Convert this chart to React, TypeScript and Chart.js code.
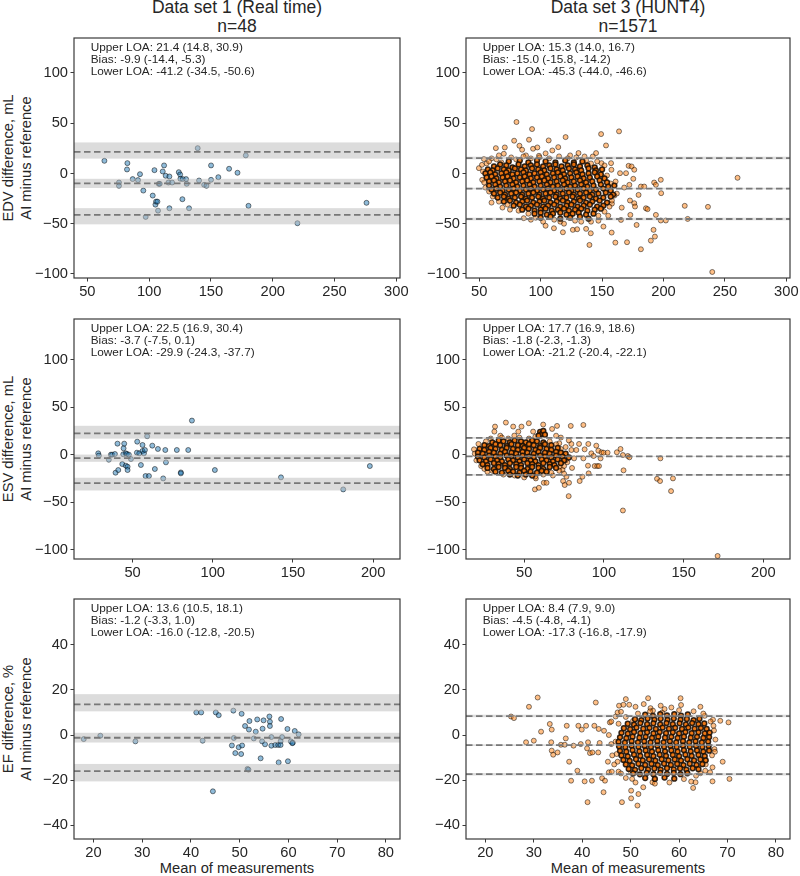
import { useEffect, useRef } from "react";
import { Chart, registerables } from "chart.js";
Chart.register(...registerables);

type Pt = [number, number];
type Loa = [number, number, number];

// ---------- text ----------
const columnTitles = ["Data set 1 (Real time)", "Data set 3 (HUNT4)"];
const columnCounts = ["n=48", "n=1571"];
const rowLabels = [
  ["EDV difference, mL", "AI minus reference"],
  ["ESV difference, mL", "AI minus reference"],
  ["EF difference, %", "AI minus reference"],
];
const xAxisLabel = "Mean of measurements";
const loaNames = ["Upper LOA", "Bias", "Lower LOA"];

// ---------- ticks & ranges ----------
const edvXTicks = [50, 100, 150, 200, 250, 300];
const esvXTicks = [50, 100, 150, 200];
const efXTicks = [20, 30, 40, 50, 60, 70, 80];
const volYTicks = [-100, -50, 0, 50, 100];
const efYTicks = [-40, -20, 0, 20, 40];
const edvXRange = [39.2, 303];
const esvXRange = [13.5, 216.7];
const efXRange = [16, 82.9];
const edvYRange = [-104, 134.8];
const esvYRange = [-109.9, 142.9];
const efYRange = [-46, 60.2];

// ---------- limits of agreement: [value, ci a, ci b] ----------
const edv1Loa: Loa[] = [[21.4, 14.8, 30.9], [-9.9, -14.4, -5.3], [-41.2, -34.5, -50.6]];
const edv3Loa: Loa[] = [[15.3, 14.0, 16.7], [-15.0, -15.8, -14.2], [-45.3, -44.0, -46.6]];
const esv1Loa: Loa[] = [[22.5, 16.9, 30.4], [-3.7, -7.5, 0.1], [-29.9, -24.3, -37.7]];
const esv3Loa: Loa[] = [[17.7, 16.9, 18.6], [-1.8, -2.3, -1.3], [-21.2, -20.4, -22.1]];
const ef1Loa: Loa[] = [[13.6, 10.5, 18.1], [-1.2, -3.3, 1.0], [-16.0, -12.8, -20.5]];
const ef3Loa: Loa[] = [[8.4, 7.9, 9.0], [-4.5, -4.8, -4.1], [-17.3, -16.8, -17.9]];

// ---------- Data set 1 points (mean, difference) ----------
const edv1Points: Pt[] = [
  [63.8, 12.6], [75.6, -9], [75.6, -12.3], [82.4, 10.3], [82.1, 4], [86.7, -5.6], [91, -6.6], [92.6, -0.7],
  [95.3, -17], [97.2, -43.2], [102.9, -22], [104.3, 3.3], [105.1, -31], [105.6, -28], [106.7, -28], [107.2, -37],
  [107.8, -10.3], [108.6, -10.3], [111, 2], [112.1, 8], [113.4, -2.3], [115.6, -9], [116.4, -3], [116.4, -34.6],
  [118.6, -9], [124, 1.3], [125.1, -1], [125.3, -5.3], [127.2, -5.6], [126.9, -25.6], [129.9, -5.6], [130.4, -10.3],
  [132.3, -34.6], [139.3, 25.2], [140.4, -7], [144.5, -11.3], [146.4, -12.3], [150.1, 8], [150.1, -6.3], [156, -3.7],
  [164.7, 4.7], [171.5, 0.7], [178.2, 18], [180.4, -32.2], [220, -49.5], [275.9, -29.2],
];
const esv1Points: Pt[] = [
  [28.6, 1.4], [29, -1], [35.2, -5.3], [36.5, 0], [37.3, 0], [39, 0.7], [39.4, -19], [41.1, -16.2], [40.6, 11.6],
  [43.6, -9.9], [44.4, 6.7], [44.8, 11.6], [44.2, 0.4], [45.8, 1.4], [45.8, -11.6], [46.5, 0.7], [46.9, -12.7],
  [46.9, -16.2], [47.7, 0], [49, -4.6], [52.7, 2.1], [52.9, 13.7], [54.2, 1.4], [55.2, -10.9], [56.2, 10.2],
  [56.2, 3.9], [57.1, 1.4], [57.7, 4.9], [58.1, -22.5], [59.1, 19.4], [60.2, -22.5], [62.3, 9.5], [63.9, -15.1],
  [65.8, 6], [69.1, -25], [70.4, 4.9], [70.8, -8.1], [77.6, 4.9], [80.1, -18.7], [80.1, -19.7], [84.7, 4.9],
  [87, 35.9], [101.3, -16.2], [142.5, -23.9], [181.3, -36.6], [197.9, -12],
];
const ef1Points: Pt[] = [
  [18, -1.8], [21.4, -0.3], [28.6, -2.8], [41.1, 10], [42.1, 10], [42.4, -2.5], [45.1, 10], [45.7, 8.8], [44.5, -24.9],
  [48.7, 10.8], [48.8, -1.3], [48.4, -4.6], [49.1, -8], [49.8, -5.4], [50.4, 9.4], [50.5, -4.6], [50.3, -8.4],
  [51.1, 4], [51.6, -15], [51.8, -15.3], [51.9, 2.4], [52, 6.2], [52.9, -1.5], [53.3, 1.5], [53.6, 6.9], [54.3, -10.3],
  [54.6, -2.8], [54.7, 2.8], [54.9, 6.5], [55.2, -4.1], [56.1, 8.2], [56.2, 5.9], [56.2, 4], [56.5, -4.7], [56.5, -0.9],
  [57.3, -4.4], [57.9, -4.4], [58, -12.1], [58.4, -2.7], [58.4, -4.4], [58.5, 7.1], [58.7, -0.9], [59.8, 2.7],
  [59.9, -11.6], [60.5, -2.8], [60.9, -3.4], [60.8, -3.6], [61.3, 1.8], [62.1, 0.3],
];

// ---------- Data set 3 points ----------
const edv3Sparse: Pt[] = [
  [49.7, 5.3], [52.2, 8.6], [52.4, -6.3], [53.8, 14.3], [56, 10], [58, -18], [60, -29], [60, 15], [63.5, 25.2], [66, 18],
  [68.9, -33.9], [70, 19.6], [70.8, 25.9], [75, -36], [78.4, 32.6], [80.3, 51.2], [82.7, 27.6], [84.9, 23.6], [86.2, -44.5],
  [88, 18], [90.5, 33.6], [92, -46], [93, 44.2], [93.8, 24.6], [97.3, 25.9], [98.6, 17.6], [102, -48], [104, 20],
  [106.5, 32.9], [109.5, 22.9], [110.8, -54.5], [114.3, 26.2], [116, -48], [118.1, -58.5], [120.3, 36.2], [124, 18],
  [126.2, -56.1], [129.7, -55.5], [130.8, 20.3], [133, -48], [135.7, 16.9], [137, -55.1], [139.7, -71.1], [140.8, -59.5],
  [142.4, 16.9], [145.1, 20.3], [147, -47], [149.2, 39.2], [149.5, 10.3], [151.1, -52.8], [153.2, 27.9], [155, -42],
  [157.3, 10.3], [157.6, 3.7], [157.8, -58.8], [158, -30], [160.8, -68.8], [161, -8], [162, -20], [163.8, 41.9],
  [164.6, 0.3], [165.4, -46.2], [166, -34], [168, -14], [169.5, 0.3], [170.3, -68.4], [171.6, 7.6], [172.2, -11.3],
  [172.7, -26.9], [173, -41.2], [174, 7], [175.4, -5.3], [176.2, 3.7], [176.2, -29.6], [176.8, -32.9], [178.1, -51.2],
  [179.7, -21.3], [181.6, -75.4], [181.6, -13], [184.3, -13], [185.7, -34.6], [187, -35.5], [189.7, -66.8], [191.9, -56.1],
  [192.4, -9], [193, -62.8], [193.8, -11.3], [193.8, -41.2], [197.8, -6.3], [198.1, -19.6], [197.8, -46.8], [201.9, -46.8],
  [217.3, -32.2], [219.7, -45.2], [236.2, -33.2], [239.7, -98], [260.3, -4.3],
  [58, 12], [64, 14], [68, 11], [76, 16], [80, 14], [86, 17], [92, 15], [99, 16], [107, 15], [115, 17], [122, 15],
  [129, 16], [137, 13], [141, 10], [146, 12], [152, 8], [154, -2], [157, -10], [160, -22], [158, -27], [156, -33],
  [152, -38], [147, -42], [141, -48], [128, -47], [119, -50], [111, -46], [104, -52], [96, -44], [90, -40], [82, -37],
  [73, -31], [66, -28], [61, -23], [55, -14], [54, -9], [53, 2],
];
const edv3Dense: Pt[] = [
  [74, 12], [83, 13], [90, 11], [97, 13], [104, 12], [112, 11], [120, 13], [127, 11], [134, 12],
  [62, 7], [67, 9], [72, 8], [77, 6], [82, 9], [87, 7], [92, 8], [97, 9], [102, 7], [107, 8], [112, 9], [117, 7], [122, 8], [127, 9], [132, 7], [138, 8], [144, 6],
  [57, 4], [61, 3], [65, 5], [70, 4], [74, 3], [79, 5], [84, 4], [88, 3], [93, 5], [98, 4], [103, 3], [108, 5], [113, 4], [118, 3], [123, 5], [128, 4], [133, 3], [139, 5], [145, 3], [150, 4],
  [55, 0], [59, 1], [63, -1], [68, 0], [72, 1], [77, -1], [81, 0], [86, 1], [91, -1], [95, 0], [100, 1], [105, -1], [110, 0], [114, 1], [119, -1], [124, 0], [129, 1], [134, -1], [139, 0], [144, 1], [149, -1],
  [56, -4], [60, -3], [64, -5], [69, -4], [73, -3], [78, -5], [83, -4], [87, -3], [92, -5], [97, -4], [101, -3], [106, -5], [111, -4], [116, -3], [120, -5], [125, -4], [130, -3], [135, -5], [140, -4], [146, -3], [152, -5],
  [58, -8], [62, -7], [66, -9], [71, -8], [75, -7], [80, -9], [85, -8], [89, -7], [94, -9], [99, -8], [103, -7], [108, -9], [113, -8], [118, -7], [122, -9], [127, -8], [132, -7], [137, -9], [142, -8], [148, -7], [154, -9],
  [58, -12], [63, -11], [67, -13], [72, -12], [77, -11], [81, -13], [86, -12], [91, -11], [95, -13], [100, -12], [105, -11], [110, -13], [114, -12], [119, -11], [124, -13], [128, -12], [133, -11], [138, -13], [143, -12], [149, -11], [155, -13], [160, -12],
  [60, -16], [64, -15], [69, -17], [74, -16], [78, -15], [83, -17], [88, -16], [92, -15], [97, -17], [102, -16], [106, -15], [111, -17], [116, -16], [121, -15], [125, -17], [130, -16], [135, -15], [140, -17], [145, -16], [151, -15], [157, -17],
  [62, -20], [67, -19], [71, -21], [76, -20], [80, -19], [85, -21], [90, -20], [94, -19], [99, -21], [104, -20], [108, -19], [113, -21], [118, -20], [123, -19], [127, -21], [132, -20], [137, -19], [142, -21], [147, -20], [153, -19], [159, -21],
  [65, -24], [70, -23], [74, -25], [79, -24], [84, -23], [88, -25], [93, -24], [98, -23], [102, -25], [107, -24], [112, -23], [116, -25], [121, -24], [126, -23], [131, -25], [135, -24], [140, -23], [145, -25], [151, -24], [157, -23],
  [70, -28], [75, -27], [80, -29], [85, -28], [89, -27], [94, -29], [99, -28], [103, -27], [108, -29], [113, -28], [118, -27], [122, -29], [127, -28], [132, -27], [137, -29], [142, -28], [148, -27], [154, -29],
  [78, -32], [83, -31], [88, -33], [92, -32], [97, -31], [102, -33], [106, -32], [111, -31], [116, -33], [121, -32], [125, -31], [130, -33], [135, -32], [140, -31], [146, -33], [151, -32],
  [85, -36], [90, -35], [95, -37], [100, -36], [104, -35], [109, -37], [114, -36], [119, -35], [123, -37], [128, -36], [133, -35], [138, -37], [144, -36], [149, -35],
  [95, -40], [100, -39], [105, -41], [110, -40], [116, -39], [121, -41], [126, -40], [131, -39], [137, -41], [143, -40],
  [100, -44], [108, -43], [116, -45], [124, -44], [132, -43], [139, -45],
];

const esv3Sparse: Pt[] = [
  [18.5, 5.6], [21.3, 11.3], [26.9, -18], [31.7, 29.6], [31.3, 24.3], [38.5, 33.8], [35, 20], [43.1, 29.6], [43.8, 20.1],
  [46.3, 24.3], [48.3, 29.6], [52.9, 33.1], [55.6, 24.3], [57.3, -25], [56.7, -36.6], [59.2, -34.9], [61.9, 31.7],
  [62.3, -29.6], [64, -29.6], [67.5, 27.1], [70.6, 30.3], [72.3, -12.7], [74.4, -27.8], [75.4, -32], [76.5, -23.2],
  [77.9, -43.7], [79.2, 30.3], [78.1, -29.6], [79.6, 11.3], [79.6, 4.9], [81.3, -3.9], [82.7, 4.9], [84.4, 11.3],
  [84.8, -27.8], [86.5, -23.2], [87.1, 31.3], [87.1, -3.9], [87.9, 5.6], [90.2, 11.3], [90, -11.6], [90.4, -19.7],
  [92.1, 1.4], [93.5, -1.4], [94.2, -12], [95.2, 9.5], [95.8, -12], [96.5, 4.2], [96.9, -12], [97.9, -3.9], [98.5, 2.5],
  [99.8, 2.1], [102.3, 2.1], [108.1, 2.5], [110.4, 6], [111.9, -0.4], [112.3, -16.5], [111.9, -58.8], [115, -1.4],
  [116, -2.8], [135.4, -3.9], [133.3, -25.4], [135.2, -27.8], [142.1, -38.4], [143.3, -25], [171.3, -106.7],
  [72, 12], [74, -16], [76, 8], [77, -8], [78, 15], [80, -14], [75, -20], [73, 18], [70, 20], [68, -22],
  [20, -6], [19, 1], [23, -12], [26, 14], [29, 17], [36, 18], [40, 17], [47, 18], [53, 17], [57, 19], [66, 14],
  [70, 11], [73, 6], [76, -6], [75, -12], [72, -17], [67, -19], [62, -21], [57, -23], [50, -24], [44, -22], [37, -21],
  [30, -17], [25, -15],
];
const esv3Dense: Pt[] = [
  [30, 13], [34, 15], [37, 14], [41, 13], [44, 15], [48, 14], [51, 13], [55, 15], [58, 14], [62, 13],
  [25, 10], [28, 9], [32, 11], [35, 10], [39, 9], [42, 11], [46, 10], [49, 9], [53, 11], [56, 10], [60, 9], [63, 11], [67, 10],
  [22, 6], [25, 5], [29, 7], [32, 6], [36, 5], [39, 7], [43, 6], [46, 5], [50, 7], [53, 6], [57, 5], [60, 7], [64, 6], [67, 5], [71, 7],
  [21, 2], [24, 1], [28, 3], [31, 2], [35, 1], [38, 3], [42, 2], [45, 1], [49, 3], [52, 2], [56, 1], [59, 3], [63, 2], [66, 1], [70, 3], [73, 2], [76, 1],
  [21, -2], [25, -3], [28, -1], [32, -2], [35, -3], [39, -1], [42, -2], [46, -3], [49, -1], [53, -2], [56, -3], [60, -1], [63, -2], [67, -3], [70, -1], [74, -2], [78, -3],
  [22, -6], [26, -7], [29, -5], [33, -6], [36, -7], [40, -5], [43, -6], [47, -7], [50, -5], [54, -6], [57, -7], [61, -5], [64, -6], [68, -7], [71, -5], [75, -6],
  [24, -10], [27, -11], [31, -9], [34, -10], [38, -11], [41, -9], [45, -10], [48, -11], [52, -9], [55, -10], [59, -11], [62, -9], [66, -10], [69, -11], [73, -9],
  [27, -14], [31, -15], [34, -13], [38, -14], [41, -15], [45, -13], [48, -14], [52, -15], [55, -13], [59, -14], [62, -15], [66, -13], [70, -14],
  [32, -18], [36, -19], [40, -17], [43, -18], [47, -19], [50, -17], [54, -18], [58, -19], [61, -17], [64, -18],
  [41, -21], [46, -22], [51, -21], [55, -22],
  [60, 24], [61, 22], [62, 25], [63, 21], [59, 20],
];

const ef3Sparse: Pt[] = [
  [25.3, 8.2], [25.9, 7.5], [29, 12.5], [28.4, -3.2], [30, -2.5], [30.8, 16.6], [31.5, 1.5], [33.3, 4.9], [33.7, 2.4],
  [33.6, -3.2], [33.7, -6.9], [34, -8.7], [34.9, -7.7], [35.6, -4.3], [36.4, -4.3], [36.6, -1.5], [36.8, 4.1],
  [37.3, -11.8], [37.7, -20.2], [38.2, -4.7], [39, -15.8], [39.2, 4.1], [39.7, -4], [39.9, 2.4], [40.5, -20.5],
  [40.8, 4.1], [41, -5.9], [41.1, -29.7], [41.2, -3.2], [41.6, -8], [42, -20.2], [42.1, -7.7], [42.5, 4.1],
  [42.8, 14.4], [43.3, -7.7], [43.4, 2.7], [43.6, -3.5], [44.1, -19.1], [44.4, -25.3], [44.5, 1.9], [44.7, -20.2],
  [45.3, -11.8], [45.5, -16.5], [45.7, 5.6], [46.1, -16.2], [46.9, 8.2], [47.3, 10], [47.6, 13], [46.9, -2.9],
  [47.1, -8.4], [47.3, -11.8], [47.5, -16.2], [48.2, -29.7], [48, 10.3], [48.5, 13.4], [49, 15.9], [49.7, 13.4],
  [50.1, -16.5], [50.3, -19.4], [50.1, -24.6], [50.1, -28], [50.5, 6.3], [51.4, -31.2], [51.6, -26.1], [51, 12.5],
  [52.7, 13.7], [53.6, 16.3], [54.1, 11.9], [54.6, 10.8], [52.6, -23.1], [54.5, -20.9], [56.2, 13], [56.5, 10],
  [58.4, 12.2], [60.3, 16.3], [60.4, 13.3], [62.5, -20.6], [62.9, -23.4], [63.4, -20.9], [64.4, 12.5], [64.4, -16.9],
  [65.3, 8.5], [66.4, -16.5], [66.9, -14.3], [66.9, -20.5], [67, 6.8], [67.1, 4.1], [67.3, -6.2], [67.4, -7.4],
  [68.5, 6.3], [69, -11.8], [70.2, 5.6], [70.4, -19.4], [66.1, -5.9], [65.4, -15.8],
  [46, 6], [45.5, 0], [46, -4], [46.2, -9], [46.6, -13], [48, -17], [49, -19], [51, -21], [55, -21.5], [58, -21],
  [61, -19.5], [63.5, -18], [65.5, -13], [66.8, -9], [67.5, -2], [67.2, 2], [66.5, 6], [65, 9.5], [63, 10.5], [60, 11],
  [57, 11.5], [54, 10.5], [51.5, 9.5], [49, 8], [47.5, 5],
];
const ef3Dense: Pt[] = [
  [53, 9], [54.6, 8.5], [56.1, 9.3], [57.5, 8.7], [59, 9.2], [60.4, 8.6], [61.8, 9.1],
  [50.9, 7], [52.2, 6.6], [53.5, 7.3], [54.9, 6.8], [56.2, 7.2], [57.6, 6.7], [58.9, 7.3], [60.3, 6.8], [61.6, 7.1], [63, 6.6], [64.2, 7.2],
  [49.4, 5], [50.7, 4.6], [52, 5.3], [53.4, 4.8], [54.7, 5.2], [56.1, 4.7], [57.4, 5.3], [58.7, 4.8], [60.1, 5.2], [61.4, 4.7], [62.7, 5.3], [64, 4.8], [65.2, 5.1],
  [48.6, 3], [49.9, 2.6], [51.2, 3.3], [52.6, 2.8], [53.9, 3.2], [55.2, 2.7], [56.6, 3.3], [57.9, 2.8], [59.2, 3.2], [60.6, 2.7], [61.9, 3.3], [63.2, 2.8], [64.5, 3.1], [65.7, 2.7],
  [48.1, 1], [49.4, 0.6], [50.7, 1.3], [52, 0.8], [53.4, 1.2], [54.7, 0.7], [56, 1.3], [57.3, 0.8], [58.7, 1.2], [60, 0.7], [61.3, 1.3], [62.6, 0.8], [64, 1.2], [65.3, 0.7], [66.3, 1.1],
  [47.8, -1], [49.1, -1.4], [50.4, -0.7], [51.8, -1.2], [53.1, -0.8], [54.4, -1.3], [55.7, -0.7], [57.1, -1.2], [58.4, -0.8], [59.7, -1.3], [61, -0.7], [62.4, -1.2], [63.7, -0.8], [65, -1.3], [66.2, -0.9],
  [47.5, -3], [48.8, -3.4], [50.2, -2.7], [51.5, -3.2], [52.8, -2.8], [54.1, -3.3], [55.5, -2.7], [56.8, -3.2], [58.1, -2.8], [59.4, -3.3], [60.8, -2.7], [62.1, -3.2], [63.4, -2.8], [64.7, -3.3], [66, -2.9],
  [47.6, -5], [48.9, -5.4], [50.2, -4.7], [51.6, -5.2], [52.9, -4.8], [54.2, -5.3], [55.5, -4.7], [56.9, -5.2], [58.2, -4.8], [59.5, -5.3], [60.8, -4.7], [62.2, -5.2], [63.5, -4.8], [64.8, -5.3], [66.1, -4.9],
  [47.8, -7], [49.1, -7.4], [50.4, -6.7], [51.8, -7.2], [53.1, -6.8], [54.4, -7.3], [55.7, -6.7], [57.1, -7.2], [58.4, -6.8], [59.7, -7.3], [61, -6.7], [62.4, -7.2], [63.7, -6.8], [65, -7.3], [66.2, -6.9],
  [48.1, -9], [49.4, -9.4], [50.7, -8.7], [52, -9.2], [53.4, -8.8], [54.7, -9.3], [56, -8.7], [57.3, -9.2], [58.7, -8.8], [60, -9.3], [61.3, -8.7], [62.6, -9.2], [64, -8.8], [65.3, -9.3],
  [48.5, -11], [49.8, -11.4], [51.1, -10.7], [52.5, -11.2], [53.8, -10.8], [55.1, -11.3], [56.4, -10.7], [57.8, -11.2], [59.1, -10.8], [60.4, -11.3], [61.7, -10.7], [63.1, -11.2], [64.4, -10.8], [65.5, -11.2],
  [49, -13], [50.3, -13.4], [51.6, -12.7], [53, -13.2], [54.3, -12.8], [55.6, -13.3], [56.9, -12.7], [58.3, -13.2], [59.6, -12.8], [60.9, -13.3], [62.2, -12.7], [63.6, -13.2], [64.8, -12.9],
  [49.6, -15], [50.9, -15.4], [52.2, -14.7], [53.6, -15.2], [54.9, -14.8], [56.2, -15.3], [57.5, -14.7], [58.9, -15.2], [60.2, -14.8], [61.5, -15.3], [62.8, -14.7], [64, -15.1],
  [50.5, -17], [51.9, -17.4], [53.3, -16.8], [54.7, -17.3], [56.1, -16.7], [57.5, -17.2], [58.9, -16.8], [60.3, -17.3], [61.7, -16.9],
  [53, -19], [55, -19.4], [57, -18.8], [59, -19.3],
];

// ---------- styles ----------
const FONT = "'Liberation Sans', Arial, Helvetica, sans-serif";
const TEXT = "#262626";
const SPINE = "#3a3a3a";
const BLUE_FILL = "rgba(31,119,180,0.5)";
const ORANGE_FILL = "rgba(255,127,14,0.5)";
const EDGE = "rgba(0,0,0,0.55)";
const DENSE_FILL = "rgba(236,112,8,0.95)";
const DENSE_EDGE = "rgba(28,16,6,0.9)";
const BAND = "rgba(185,185,185,0.5)";
const LINE = "#787878";

const colLeft = [74, 466];
const colRight = [400, 790];
const rowTop = [38, 319, 599];
const rowBottom = [278, 559, 839];
const Y_AXIS_W = 50;
const X_AXIS_H = 30;
const PAD_TOP = 14;
const PAD_RIGHT = 22;

type PanelCfg = {
  row: number;
  col: number;
  points: Pt[];
  dense: Pt[];
  fill: string;
  loa: Loa[];
  xRange: number[];
  yRange: number[];
  xTicks: number[];
  yTicks: number[];
};

const panels: PanelCfg[] = [
  { row: 0, col: 0, points: edv1Points, dense: [], fill: BLUE_FILL, loa: edv1Loa, xRange: edvXRange, yRange: edvYRange, xTicks: edvXTicks, yTicks: volYTicks },
  { row: 0, col: 1, points: edv3Sparse, dense: edv3Dense, fill: ORANGE_FILL, loa: edv3Loa, xRange: edvXRange, yRange: edvYRange, xTicks: edvXTicks, yTicks: volYTicks },
  { row: 1, col: 0, points: esv1Points, dense: [], fill: BLUE_FILL, loa: esv1Loa, xRange: esvXRange, yRange: esvYRange, xTicks: esvXTicks, yTicks: volYTicks },
  { row: 1, col: 1, points: esv3Sparse, dense: esv3Dense, fill: ORANGE_FILL, loa: esv3Loa, xRange: esvXRange, yRange: esvYRange, xTicks: esvXTicks, yTicks: volYTicks },
  { row: 2, col: 0, points: ef1Points, dense: [], fill: BLUE_FILL, loa: ef1Loa, xRange: efXRange, yRange: efYRange, xTicks: efXTicks, yTicks: efYTicks },
  { row: 2, col: 1, points: ef3Sparse, dense: ef3Dense, fill: ORANGE_FILL, loa: ef3Loa, xRange: efXRange, yRange: efYRange, xTicks: efXTicks, yTicks: efYTicks },
];

const fmtTick = (v: number) => (v < 0 ? "\u2212" + Math.abs(v) : String(v));
const f1 = (v: number) => v.toFixed(1);

function makeOverlay(loa: Loa[]) {
  return {
    id: "loaOverlay",
    afterDatasetsDraw(chart: any) {
      const { ctx, chartArea: a, scales } = chart;
      const ys = scales.y;
      ctx.save();
      ctx.beginPath();
      ctx.rect(a.left, a.top, a.right - a.left, a.bottom - a.top);
      ctx.clip();
      for (const [, c1, c2] of loa) {
        const p1 = ys.getPixelForValue(c1);
        const p2 = ys.getPixelForValue(c2);
        ctx.fillStyle = BAND;
        ctx.fillRect(a.left, Math.min(p1, p2), a.right - a.left, Math.abs(p2 - p1));
      }
      ctx.strokeStyle = LINE;
      ctx.lineWidth = 1.8;
      ctx.setLineDash([6.5, 3.5]);
      for (const [v] of loa) {
        const p = ys.getPixelForValue(v);
        ctx.beginPath();
        ctx.moveTo(a.left, p);
        ctx.lineTo(a.right, p);
        ctx.stroke();
      }
      ctx.restore();
      ctx.save();
      ctx.strokeStyle = SPINE;
      ctx.lineWidth = 1.2;
      ctx.strokeRect(a.left, a.top, a.right - a.left, a.bottom - a.top);
      ctx.restore();
    },
    afterDraw(chart: any) {
      const { ctx, chartArea: a } = chart;
      ctx.save();
      ctx.font = `11.8px ${FONT}`;
      ctx.fillStyle = TEXT;
      ctx.textBaseline = "alphabetic";
      ctx.textAlign = "left";
      loa.forEach(([v, c1, c2], i) => {
        ctx.fillText(`${loaNames[i]}: ${f1(v)} (${f1(c1)}, ${f1(c2)})`, a.left + 16.7, a.top + 12.5 + i * 12.3);
      });
      ctx.restore();
    },
  };
}

function Panel({ cfg }: { cfg: PanelCfg }) {
  const ref = useRef<HTMLCanvasElement>(null);
  const L = colLeft[cfg.col];
  const R = colRight[cfg.col];
  const T = rowTop[cfg.row];
  const B = rowBottom[cfg.row];
  const left = L - Y_AXIS_W;
  const top = T - PAD_TOP;
  const width = R - L + Y_AXIS_W + PAD_RIGHT;
  const height = B - T + PAD_TOP + X_AXIS_H;

  useEffect(() => {
    const tickFont = { family: FONT, size: 14.7 };
    const chart = new Chart(ref.current!, {
      type: "scatter",
      data: {
        datasets: [
          {
            data: cfg.dense.map(([x, y]) => ({ x, y })),
            pointRadius: 2.4,
            pointBorderWidth: 1.5,
            pointBackgroundColor: DENSE_FILL,
            pointBorderColor: DENSE_EDGE,
            pointHoverRadius: 2.4,
          },
          {
            data: cfg.points.map(([x, y]) => ({ x, y })),
            pointRadius: 2.5,
            pointBorderWidth: 0.9,
            pointBackgroundColor: cfg.fill,
            pointBorderColor: EDGE,
            pointHoverRadius: 2.5,
          },
        ],
      },
      options: {
        animation: false,
        responsive: false,
        maintainAspectRatio: false,
        devicePixelRatio: 1,
        events: [],
        layout: { padding: { top: PAD_TOP, right: PAD_RIGHT, left: 0, bottom: 0 } },
        plugins: { legend: { display: false }, tooltip: { enabled: false }, title: { display: false } },
        scales: {
          x: {
            type: "linear",
            min: cfg.xRange[0],
            max: cfg.xRange[1],
            afterFit: (s: any) => {
              s.height = X_AXIS_H;
            },
            afterBuildTicks: (s: any) => {
              s.ticks = cfg.xTicks.map((value) => ({ value }));
            },
            ticks: {
              font: tickFont,
              color: TEXT,
              padding: 2,
              maxRotation: 0,
              autoSkip: false,
              includeBounds: false,
              callback: (v: any) => fmtTick(Number(v)),
            },
            grid: { display: true, drawOnChartArea: false, drawTicks: true, tickLength: 3.5, color: SPINE, lineWidth: 1 },
            border: { display: false },
          },
          y: {
            type: "linear",
            min: cfg.yRange[0],
            max: cfg.yRange[1],
            afterFit: (s: any) => {
              s.width = Y_AXIS_W;
            },
            afterBuildTicks: (s: any) => {
              s.ticks = cfg.yTicks.map((value) => ({ value }));
            },
            ticks: {
              font: tickFont,
              color: TEXT,
              padding: 2.5,
              autoSkip: false,
              includeBounds: false,
              callback: (v: any) => fmtTick(Number(v)),
            },
            grid: { display: true, drawOnChartArea: false, drawTicks: true, tickLength: 3.5, color: SPINE, lineWidth: 1 },
            border: { display: false },
          },
        },
      },
      plugins: [makeOverlay(cfg.loa)],
    } as any);
    return () => chart.destroy();
  }, []);

  return (
    <canvas
      ref={ref}
      width={width}
      height={height}
      style={{ position: "absolute", left, top, width, height }}
    />
  );
}

export default function App() {
  const rowCenters = rowTop.map((t, i) => (t + rowBottom[i]) / 2);
  return (
    <div
      style={{
        position: "absolute",
        left: 0,
        top: 0,
        width: 800,
        height: 876,
        background: "#fff",
        fontFamily: FONT,
        color: TEXT,
        overflow: "hidden",
      }}
    >
      {columnTitles.map((t, c) => {
        const cx = (colLeft[c] + colRight[c]) / 2;
        return (
          <div key={"t" + c}>
            <div style={{ position: "absolute", left: cx - 150, width: 300, top: -2.8, lineHeight: "20px", fontSize: 17.5, textAlign: "center", whiteSpace: "nowrap" }}>{t}</div>
            <div style={{ position: "absolute", left: cx - 150, width: 300, top: 15.6, lineHeight: "20px", fontSize: 17.5, textAlign: "center", whiteSpace: "nowrap" }}>{columnCounts[c]}</div>
          </div>
        );
      })}
      {rowLabels.map((lines, r) => (
        <div
          key={"y" + r}
          style={{
            position: "absolute",
            left: 16.9 - 120,
            top: rowCenters[r] - 18,
            width: 240,
            height: 36,
            lineHeight: "18px",
            fontSize: 14.7,
            textAlign: "center",
            whiteSpace: "nowrap",
            transform: "rotate(-90deg)",
            transformOrigin: "50% 50%",
          }}
        >
          {lines[0]}
          <br />
          {lines[1]}
        </div>
      ))}
      {[0, 1].map((c) => {
        const cx = (colLeft[c] + colRight[c]) / 2;
        return (
          <div key={"x" + c} style={{ position: "absolute", left: cx - 150, width: 300, top: 858, lineHeight: "20px", fontSize: 14.7, textAlign: "center", whiteSpace: "nowrap" }}>
            {xAxisLabel}
          </div>
        );
      })}
      {panels.map((p, i) => (
        <Panel key={i} cfg={p} />
      ))}
    </div>
  );
}
